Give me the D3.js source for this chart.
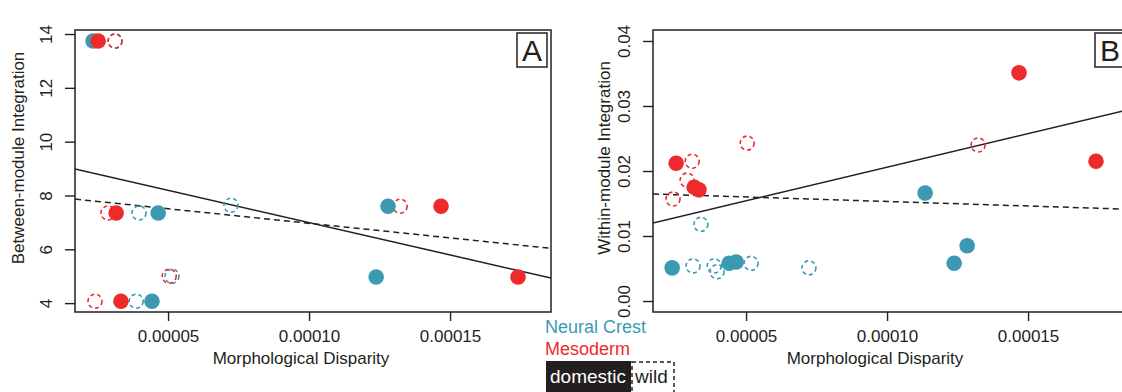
<!DOCTYPE html>
<html>
<head>
<meta charset="utf-8">
<script src="https://cdn.jsdelivr.net/npm/d3@7"></script>
<style>
  body { margin: 0; background: #fff; }
  text { font-family: "Liberation Sans", Arial, sans-serif; fill: #231f20; }
</style>
</head>
<body>
<div id="chart"></div>
<script>
// tick values and labels
const xTicks = [0.00005, 0.0001, 0.00015];
const xTickLabels = ['0.00005', '0.00010', '0.00015'];
const yTicksA = [4, 6, 8, 10, 12, 14];
const yTickLabelsA = ['4', '6', '8', '10', '12', '14'];
const yTicksB = [0, 0.01, 0.02, 0.03, 0.04];
const yTickLabelsB = ['0.00', '0.01', '0.02', '0.03', '0.04'];

// panel A points: [disparity, between-module integration]
const ncDomesticA = [[0.0000234, 13.74], [0.0000465, 7.35], [0.0000443, 4.07], [0.000128, 7.6], [0.0001238, 4.97]];
const mesoDomesticA = [[0.0000252, 13.74], [0.0000316, 7.35], [0.0000333, 4.07], [0.0001468, 7.6], [0.0001741, 4.97]];
const ncWildA = [[0.0000312, 13.74], [0.0000397, 7.35], [0.0000387, 4.07], [0.0000514, 5.0], [0.0000723, 7.64]];
const mesoWildA = [[0.0000312, 13.74], [0.0000287, 7.35], [0.0000241, 4.07], [0.0000504, 5.0], [0.0001323, 7.6]];

// panel B points: [disparity, within-module integration]
const ncDomesticB = [[0.0000238, 0.0051], [0.000044, 0.0058], [0.0000465, 0.006], [0.0001135, 0.0166], [0.0001284, 0.0085], [0.0001238, 0.0058]];
const mesoDomesticB = [[0.0000252, 0.0212], [0.0000316, 0.0175], [0.0000333, 0.0171], [0.0001468, 0.0351], [0.0001741, 0.0215]];
const ncWildB = [[0.000034, 0.0118], [0.0000312, 0.0054], [0.0000387, 0.0054], [0.0000397, 0.0045], [0.0000518, 0.0058], [0.0000723, 0.0051]];
const mesoWildB = [[0.0000309, 0.0215], [0.0000291, 0.0186], [0.0000504, 0.0243], [0.0000241, 0.0157], [0.0001323, 0.024]];

// regression lines: [intercept, slope]
const fitDomesticA = [9.39, -23993];
const fitWildA = [8.05, -10841];
const fitDomesticB = [0.01024, 103.4];
const fitWildB = [0.0167, -13.9];

const teal = '#3b9ab2';
const red = '#ee2a2c';
const ink = '#231f20';

const width = 1122;
const height = 392;
const plotTop = 30, plotBottom = 312, panelW = 476;

const svg = d3.select('#chart')
  .append('svg')
  .attr('width', width)
  .attr('height', height);

function drawPanel(p) {
  const x = d3.scaleLinear().domain([0.000017, 0.0001858]).range([p.left, p.left + panelW]);
  const y = d3.scaleLinear().domain(p.yDomain).range([plotBottom, plotTop]);
  const g = svg.append('g');

  // clip for points and lines
  g.append('clipPath').attr('id', 'clip' + p.id)
    .append('rect')
    .attr('x', p.left).attr('y', plotTop)
    .attr('width', panelW).attr('height', plotBottom - plotTop);

  // x axis
  const xAxis = g.append('g')
    .attr('transform', `translate(0,${plotBottom})`)
    .call(d3.axisBottom(x).tickValues(xTicks).tickSize(9).tickFormat((d, i) => xTickLabels[i]));
  xAxis.select('.domain').remove();
  xAxis.selectAll('line').attr('stroke', ink).attr('stroke-width', 1.4);
  xAxis.selectAll('text').attr('y', 30).attr('dy', 0)
    .style('font-size', '17px').attr('fill', ink);

  // y axis with rotated labels
  const yAxis = g.append('g')
    .attr('transform', `translate(${p.left},0)`)
    .call(d3.axisLeft(y).tickValues(p.yTicks).tickSize(10).tickFormat((d, i) => p.yTickLabels[i]));
  yAxis.select('.domain').remove();
  yAxis.selectAll('line').attr('stroke', ink).attr('stroke-width', 1.4);
  yAxis.selectAll('text')
    .attr('x', 0).attr('dy', 0)
    .attr('transform', 'translate(-23,0) rotate(-90)')
    .attr('text-anchor', 'middle')
    .style('font-size', '17px').attr('fill', ink);

  // titles
  g.append('text')
    .attr('x', p.xTitleX).attr('y', 364)
    .attr('text-anchor', 'middle')
    .style('font-size', '17px')
    .text('Morphological Disparity');
  g.append('text')
    .attr('transform', `translate(${p.yTitleX},158) rotate(-90)`)
    .attr('text-anchor', 'middle')
    .style('font-size', '17px')
    .text(p.yTitle);

  const plot = g.append('g').attr('clip-path', `url(#clip${p.id})`);

  // fitted lines
  const ends = x.domain();
  const fits = [[p.fitDomestic, null], [p.fitWild, '6,4']];
  fits.forEach(([f, dash]) => {
    plot.append('line')
      .attr('x1', x(ends[0])).attr('y1', y(f[0] + f[1] * ends[0]))
      .attr('x2', x(ends[1])).attr('y2', y(f[0] + f[1] * ends[1]))
      .attr('stroke', ink)
      .attr('stroke-width', 1.5)
      .attr('stroke-dasharray', dash);
  });

  // wild specimens, dashed open circles
  [[p.ncWild, teal], [p.mesoWild, red]].forEach(([pts, c]) => {
    plot.selectAll(null).data(pts).enter()
      .append('circle')
      .attr('cx', d => x(d[0])).attr('cy', d => y(d[1]))
      .attr('r', 7)
      .attr('fill', 'none')
      .attr('stroke', c)
      .attr('stroke-width', 1.6)
      .attr('stroke-dasharray', '4,3');
  });

  // domestic specimens, filled circles
  [[p.ncDomestic, teal], [p.mesoDomestic, red]].forEach(([pts, c]) => {
    plot.selectAll(null).data(pts).enter()
      .append('circle')
      .attr('cx', d => x(d[0])).attr('cy', d => y(d[1]))
      .attr('r', 7.8)
      .attr('fill', c);
  });

  // frame
  g.append('rect')
    .attr('x', p.left).attr('y', plotTop)
    .attr('width', panelW).attr('height', plotBottom - plotTop)
    .attr('fill', 'none')
    .attr('stroke', ink)
    .attr('stroke-width', 1.5);

  // panel letter
  const lx = p.left + panelW - 34;
  g.append('rect')
    .attr('x', lx).attr('y', 33)
    .attr('width', 30).attr('height', 34)
    .attr('fill', '#fff')
    .attr('stroke', ink)
    .attr('stroke-width', 1.5);
  g.append('text')
    .attr('x', lx + 15).attr('y', 61)
    .attr('text-anchor', 'middle')
    .style('font-size', '30px')
    .text(p.id);
}

drawPanel({
  id: 'A', left: 75, yDomain: [3.67, 14.15],
  yTicks: yTicksA, yTickLabels: yTickLabelsA,
  yTitle: 'Between-module Integration', yTitleX: 24, xTitleX: 301,
  ncDomestic: ncDomesticA, mesoDomestic: mesoDomesticA, ncWild: ncWildA, mesoWild: mesoWildA,
  fitDomestic: fitDomesticA, fitWild: fitWildA
});

drawPanel({
  id: 'B', left: 653, yDomain: [-0.00169, 0.04169],
  yTicks: yTicksB, yTickLabels: yTickLabelsB,
  yTitle: 'Within-module Integration', yTitleX: 610, xTitleX: 875,
  ncDomestic: ncDomesticB, mesoDomestic: mesoDomesticB, ncWild: ncWildB, mesoWild: mesoWildB,
  fitDomestic: fitDomesticB, fitWild: fitWildB
});

// legend
const legend = svg.append('g');
legend.append('text')
  .attr('x', 545).attr('y', 333)
  .style('font-size', '18px')
  .style('fill', teal)
  .text('Neural Crest');
legend.append('text')
  .attr('x', 545).attr('y', 355)
  .style('font-size', '18px')
  .style('fill', red)
  .text('Mesoderm');
legend.append('rect')
  .attr('x', 546).attr('y', 361)
  .attr('width', 85).attr('height', 32)
  .attr('fill', ink);
legend.append('text')
  .attr('x', 550).attr('y', 383)
  .style('font-size', '19px')
  .style('fill', '#fff')
  .text('domestic');
legend.append('rect')
  .attr('x', 632).attr('y', 362)
  .attr('width', 42).attr('height', 32)
  .attr('fill', 'none')
  .attr('stroke', ink)
  .attr('stroke-width', 1.5)
  .attr('stroke-dasharray', '4,3');
legend.append('text')
  .attr('x', 635).attr('y', 383)
  .style('font-size', '19px')
  .text('wild');
</script>
</body>
</html>
